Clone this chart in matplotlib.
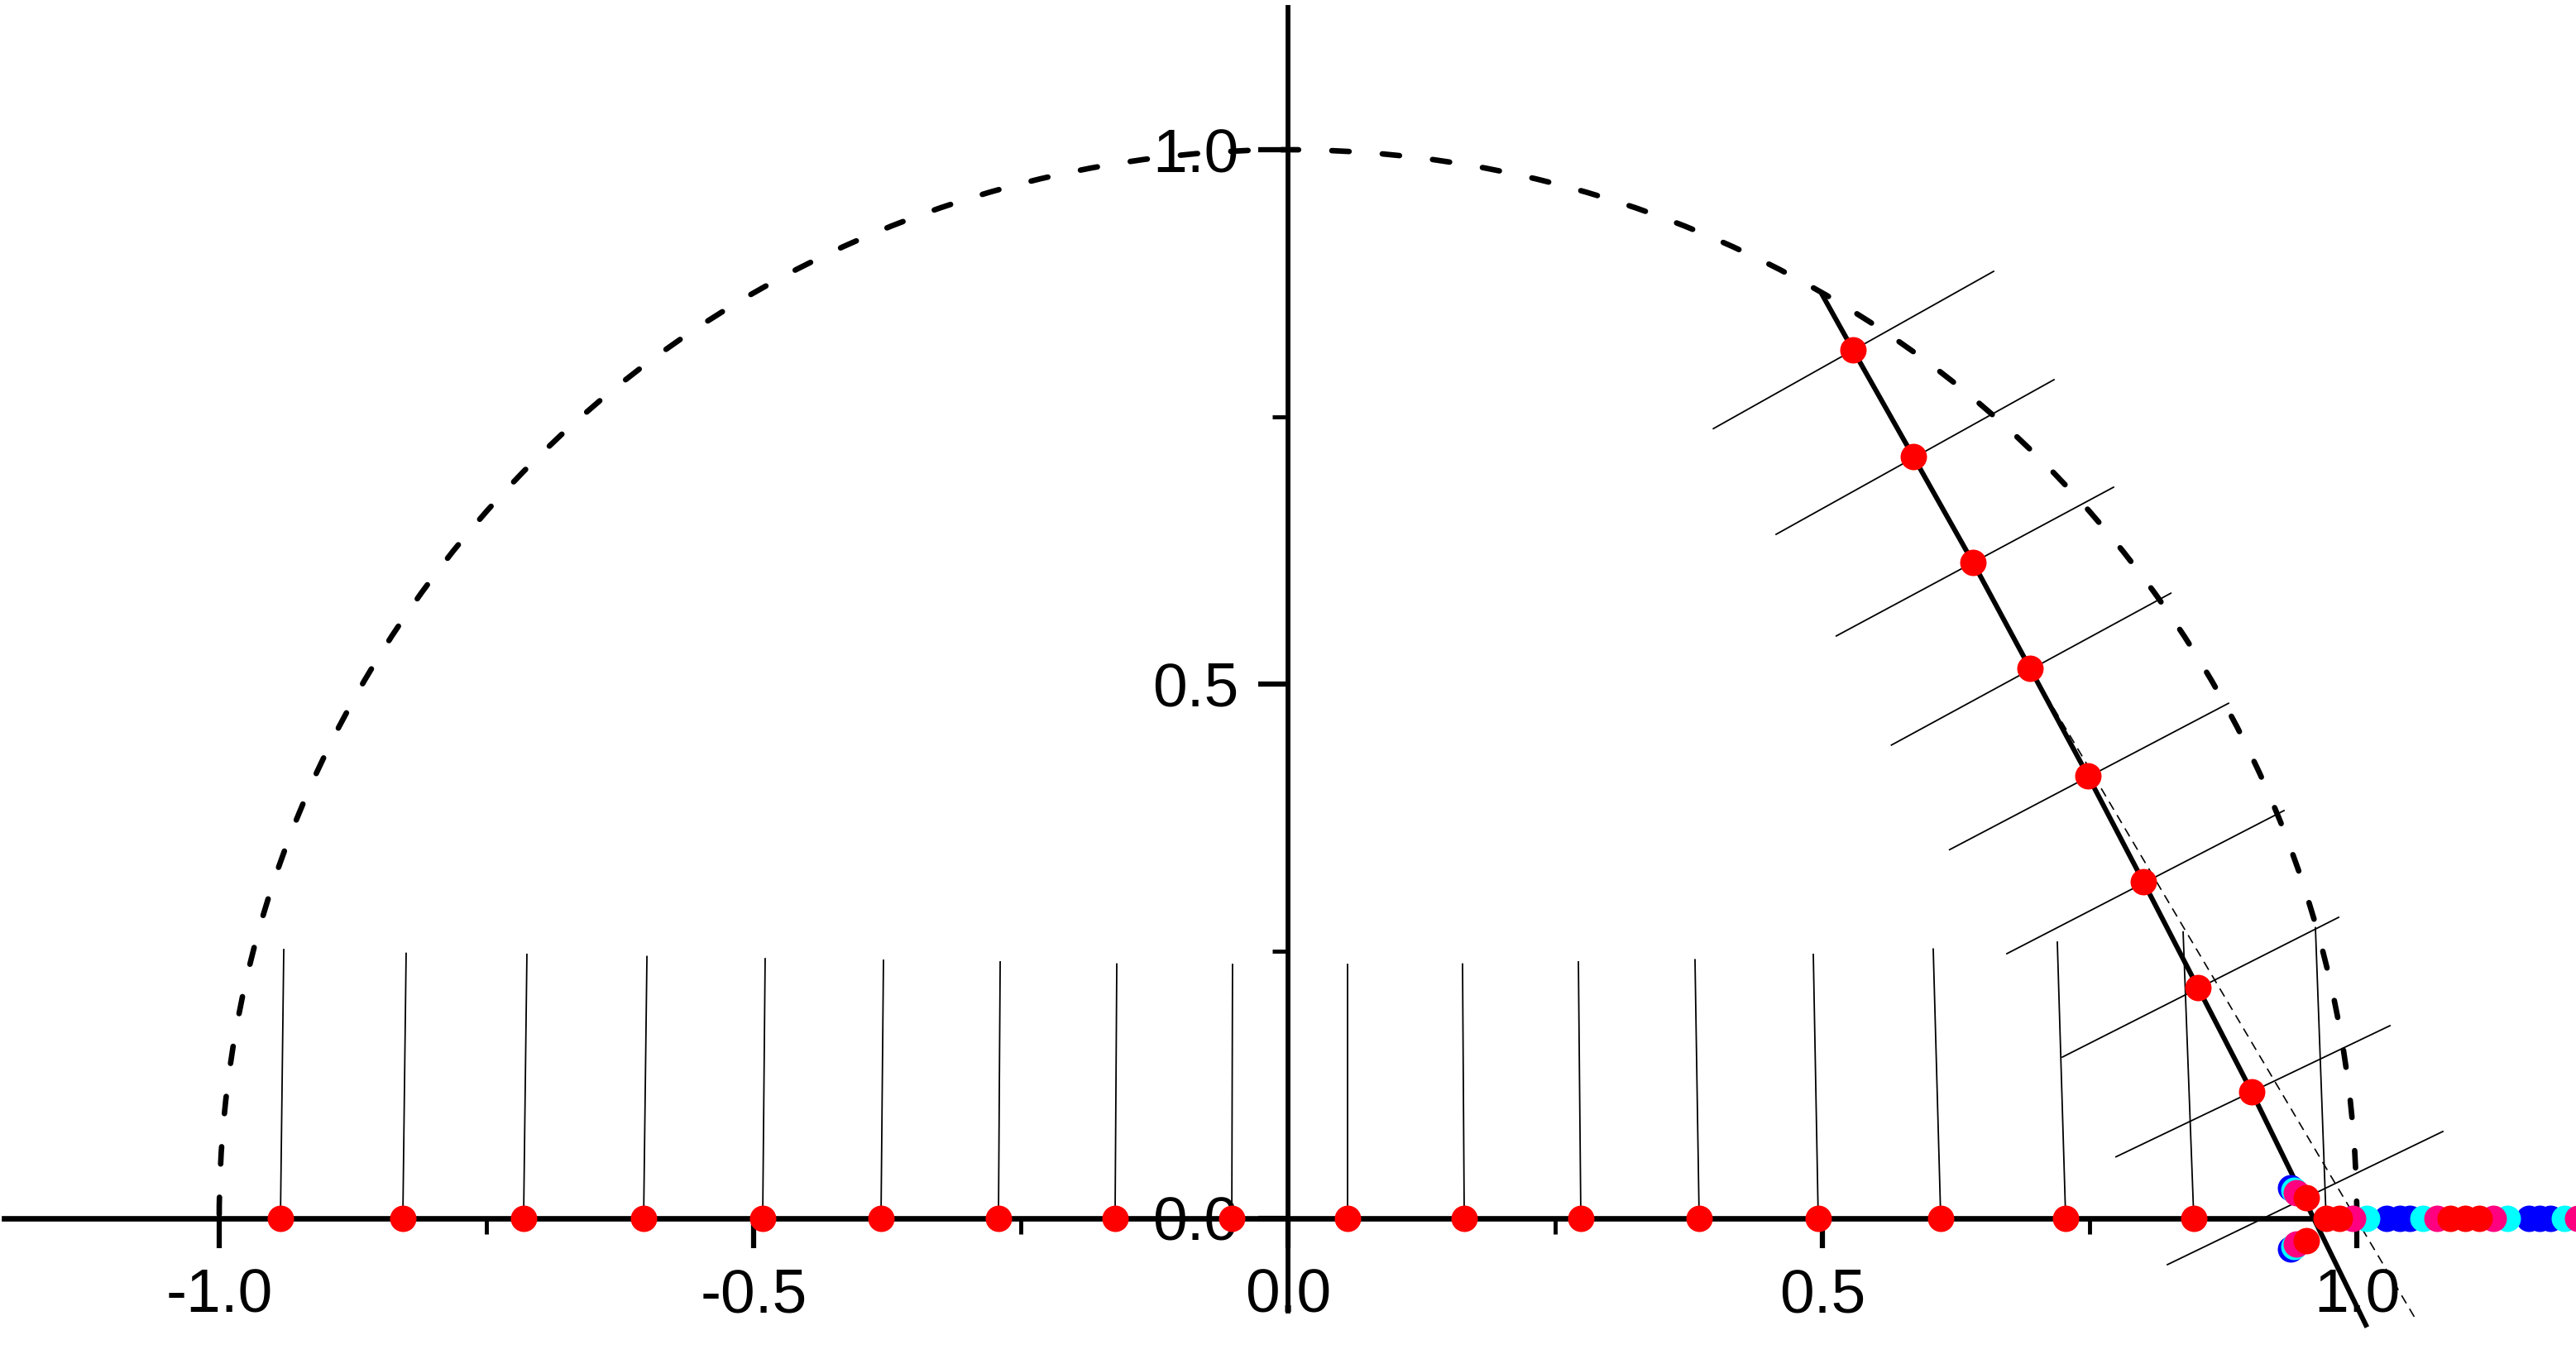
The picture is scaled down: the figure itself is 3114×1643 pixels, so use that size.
import matplotlib.pyplot as plt
from matplotlib.patches import Arc
from matplotlib.ticker import FixedLocator, FormatStrFormatter

plt.rcParams['font.family'] = ['Liberation Sans', 'DejaVu Sans']
plt.rcParams['axes.unicode_minus'] = False
plt.rcParams['lines.scale_dashes'] = False

# unit circle (dashed guide)
radius = 1.0

# red points on the real axis = feet of the thin vertical lines
axis_x = [-0.9427, -0.8282, -0.7152, -0.6029, -0.4915, -0.3808, -0.2709, -0.1618, -0.0526,
          0.0557, 0.1649, 0.2740, 0.3847, 0.4961, 0.6107, 0.7276, 0.8475, 0.9713]
# upper ends of the thin vertical lines
vert_top_x = [-0.9396, -0.8251, -0.7121, -0.5998, -0.4892, -0.3785, -0.2693, -0.1602, -0.0519,
              0.0557, 0.1633, 0.2717, 0.3808, 0.4915, 0.6037, 0.7198, 0.8375, 0.9613]
vert_top_y = [0.2515, 0.248, 0.247, 0.245, 0.243, 0.2415, 0.240, 0.238, 0.2376,
              0.2376, 0.238, 0.240, 0.242, 0.247, 0.252, 0.2585, 0.268, 0.272]

# red points along the thick curve
curve_x = [0.5286, 0.5851, 0.6409, 0.6943, 0.7485, 0.8003, 0.8514, 0.9017]
curve_y = [0.8127, 0.7128, 0.6138, 0.5147, 0.4141, 0.3150, 0.2159, 0.1184]
# thick curve (start on the circle, end below the axis)
thick_x = [0.5, 0.5286, 0.5851, 0.6409, 0.6943, 0.7485, 0.8003, 0.8514, 0.9017, 1.0085]
thick_y = [0.864, 0.8127, 0.7128, 0.6138, 0.5147, 0.4141, 0.3150, 0.2159, 0.1184, -0.0998]

# thin dashed straight line
dash_x = [0.6943, 1.0565]
dash_y = [0.5147, -0.0967]

# thin cross lines through the curve points
cross_left_x = [0.398, 0.4567, 0.513, 0.5646, 0.619, 0.6726, 0.7245, 0.7747, 0.8228]
cross_left_y = [0.739, 0.6401, 0.545, 0.4429, 0.345, 0.2477, 0.1509, 0.0576, -0.0433]
cross_right_x = [0.6602, 0.7167, 0.7724, 0.826, 0.880, 0.9319, 0.983, 1.031, 1.0805]
cross_right_y = [0.8862, 0.7848, 0.6842, 0.585, 0.482, 0.3816, 0.2817, 0.1803, 0.0813]

# coloured points near (1, 0)
blue_x = [0.938, 0.938, 1.028, 1.040, 1.0495, 1.161, 1.171, 1.181]
blue_y = [0.0286, -0.0286, 0, 0, 0, 0, 0, 0]
cyan_x = [0.941, 0.941, 1.009, 1.062, 1.141, 1.194]
cyan_y = [0.0263, -0.0263, 0, 0, 0, 0]
pink_x = [0.9435, 0.9435, 0.996, 1.075, 1.128, 1.207]
pink_y = [0.024, -0.024, 0, 0, 0, 0]
red_x = [0.9528, 0.9528, 0.9838, 1.0875, 1.101, 1.1146]
red_y = [0.0193, -0.0209, 0, 0, 0, 0]

fig = plt.figure(figsize=(31.14, 16.43), dpi=100)
ax = fig.add_axes([0, 0, 1, 1])
ax.set_xlim(-1.2051, 1.2051)
ax.set_ylim(-0.1316, 1.1401)

ax.add_patch(Arc((0, 0), 2 * radius, 2 * radius, theta1=0, theta2=180, color='black',
                 lw=4.8, linestyle=(0, (15, 29)), capstyle='round', zorder=3))

for i in range(len(axis_x)):
    ax.plot([axis_x[i], vert_top_x[i]], [0, vert_top_y[i]], color='black', lw=1.3, zorder=3)
for i in range(len(cross_left_x)):
    ax.plot([cross_left_x[i], cross_right_x[i]], [cross_left_y[i], cross_right_y[i]],
            color='black', lw=1.3, zorder=3)

ax.plot(dash_x, dash_y, color='black', lw=1.2, linestyle=(0, (8, 5.5)), zorder=3)
ax.plot(thick_x, thick_y, color='black', lw=4.3, zorder=3)

ms = 23
ax.plot(axis_x, [0] * len(axis_x), 'o', color='#ff0000', ms=ms, mec='none', zorder=5)
ax.plot(curve_x, curve_y, 'o', color='#ff0000', ms=ms, mec='none', zorder=5)
ax.plot(blue_x, blue_y, 'o', color='#0000ff', ms=ms, mec='none', zorder=5)
ax.plot(cyan_x, cyan_y, 'o', color='#00ffff', ms=ms, mec='none', zorder=5)
ax.plot(pink_x, pink_y, 'o', color='#ff0080', ms=ms, mec='none', zorder=5)
ax.plot(red_x, red_y, 'o', color='#ff0000', ms=ms, mec='none', zorder=5)

# axes crossing at the origin
ax.spines['top'].set_visible(False)
ax.spines['right'].set_visible(False)
ax.spines['left'].set_position(('data', 0))
ax.spines['bottom'].set_position(('data', 0))
ax.spines['left'].set_bounds(-0.087, 1.133)
ax.spines['bottom'].set_bounds(-1.201, 1.2051)
ax.spines['left'].set_linewidth(4.2)
ax.spines['bottom'].set_linewidth(4.8)
ax.spines['left'].set_zorder(2.6)
ax.spines['bottom'].set_zorder(2.6)

ax.xaxis.set_major_locator(FixedLocator([-1.0, -0.5, 0.0, 0.5, 1.0]))
ax.xaxis.set_minor_locator(FixedLocator([-0.75, -0.25, 0.25, 0.75]))
ax.yaxis.set_major_locator(FixedLocator([0.0, 0.5, 1.0]))
ax.yaxis.set_minor_locator(FixedLocator([0.25, 0.75]))
ax.xaxis.set_major_formatter(FormatStrFormatter('%.1f'))
ax.yaxis.set_major_formatter(FormatStrFormatter('%.1f'))
ax.tick_params(which='major', direction='out', length=26, width=4.5, labelsize=54, pad=17)
ax.tick_params(which='minor', direction='out', length=13.5, width=3.5)

fig.savefig('out.png', dpi=100)
